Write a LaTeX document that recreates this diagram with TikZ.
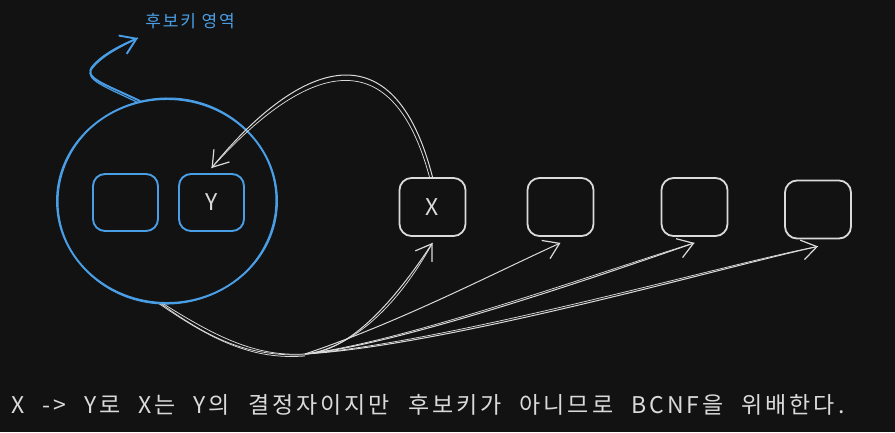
\documentclass[tikz,border=0pt]{standalone}
\usepackage{fontspec}
\setmainfont{Noto Sans CJK KR}
\newfontfamily\capfont[LetterSpace=13]{Noto Sans CJK KR}
\usetikzlibrary{arrows.meta,shapes.geometric}
\definecolor{bg}{RGB}{18,18,18}
\definecolor{skblue}{RGB}{74,158,230}
\definecolor{skgray}{RGB}{218,218,218}
\begin{document}
\begin{tikzpicture}[x=1pt,y=-1pt,
  bluebox/.style={draw=skblue, line width=1.9pt, rounded corners=12pt,
    minimum width=65pt, minimum height=57pt, inner sep=0pt,
    text=skgray, font=\fontsize{23}{23}\selectfont},
  graybox/.style={draw=skgray, line width=1.8pt, rounded corners=12pt,
    minimum width=66pt, minimum height=58pt, inner sep=0pt,
    text=skgray, font=\fontsize{23}{23}\selectfont},
  arr/.style={draw=skgray, line width=1pt,
    -{Straight Barb[length=15pt,width=20pt,line width=1.2pt]}},
  arrtwin/.style={draw=skgray, line width=0.75pt},
  bluearr/.style={draw=skblue, line width=1.9pt,
    -{Straight Barb[length=15pt,width=20pt,line width=1.9pt]}},
  bluetwin/.style={draw=skblue, line width=1.2pt}]
\fill[bg] (0,0) rectangle (895,432);
\useasboundingbox (0,0) rectangle (895,432);

% candidate key region
\node[ellipse, draw=skblue, line width=1.9pt, minimum width=220pt,
      minimum height=204pt, inner sep=0pt] (cand) at (167,201) {};
\draw[skblue, line width=1pt] (cand.center) ellipse [x radius=109pt, y radius=103pt, rotate=4];
\node[bluebox] (k1) at (125.5,202.5) {};
\node[bluebox] (yb) at (211.5,202.5) {Y};

% other attributes
\node[graybox] (xb) at (432.5,207) {X};
\node[graybox] (b2) at (560.5,207) {};
\node[graybox] (b3) at (694.5,207) {};
\node[graybox] (b4) at (818,209.5) {};

% label
\node[text=skblue, font=\fontsize{17}{17}\selectfont\addfontfeatures{LetterSpace=11}] (lbl) at (190,21) {후보키 영역};
\coordinate (lbltip) at (138,38);
\draw[bluearr] (cand.105) .. controls (105,84) and (82,78) .. (93,66) .. controls (103,54) and (122,45) .. (lbltip);
\draw[bluetwin] (cand.107) .. controls (108,88) and (85,80) .. (91,70) .. controls (101,56) and (120,47) .. (lbltip);

% X -> Y
\draw[arr] (xb.north) .. controls (394,26) and (300,60) .. ([yshift=5pt]yb.north);
\draw[arrtwin] ([xshift=-3pt]xb.north) .. controls (391,34) and (303,66) .. ([yshift=5pt]yb.north);

% from candidate region to all attributes
\coordinate (hub) at (305,354);
\draw[arrtwin] (cand.268) .. controls (215,336) and (255,357) .. (hub);
\draw[arrtwin] ([xshift=-4pt]cand.268) .. controls (212,340) and (252,360) .. ([yshift=-2pt]hub);
\draw[arrtwin] ([xshift=-2pt]cand.268) .. controls (214,342) and (250,356) .. ([yshift=-1pt]hub);
\draw[arr] (hub) .. controls (350,352) and (395,300) .. ([yshift=-6pt]xb.south);
\draw[arrtwin] (hub) .. controls (355,348) and (400,302) .. ([yshift=-6pt]xb.south);
\draw[arr] (hub) .. controls (400,322) and (490,275) .. ([yshift=-6pt]b2.south);
\draw[arr] (hub) .. controls (400,345) and (610,272) .. ([yshift=-6pt]b3.south);
\draw[arrtwin] (hub) .. controls (405,342) and (612,268) .. ([yshift=-6pt]b3.south);
\draw[arr] (hub) .. controls (450,345) and (720,268) .. ([yshift=-7pt]b4.south);
\draw[arrtwin] (hub) .. controls (455,341) and (722,265) .. ([yshift=-7pt]b4.south);

% caption
\node[anchor=west, inner sep=0pt, text=skgray] (cap) at (11,405)
  {\capfont\fontsize{23}{27}\selectfont\spaceskip=18pt X -> Y로 X는 Y의 결정자이지만 후보키가 아니므로 BCNF을 위배한다.};
\end{tikzpicture}
\end{document}
